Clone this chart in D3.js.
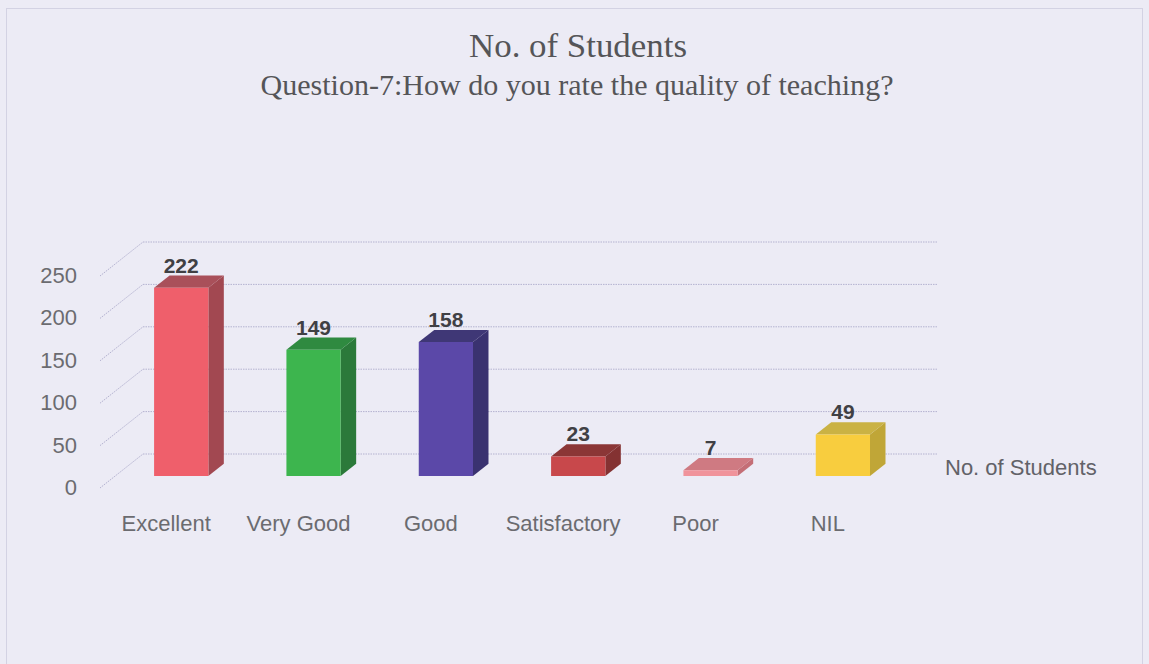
<!DOCTYPE html>
<html>
<head>
<meta charset="utf-8">
<script src="https://cdn.jsdelivr.net/npm/d3@7"></script>
<style>
  html, body { margin: 0; padding: 0; background: #ecebf5; }
  svg { display: block; }
</style>
</head>
<body>
<div id="chart"></div>
<script>
const categories = ['Excellent', 'Very Good', 'Good', 'Satisfactory', 'Poor', 'NIL']
const students = [222, 149, 158, 23, 7, 49]
const yTicks = [0, 50, 100, 150, 200, 250]
const frontColors = ['#ef5f6b', '#3db54e', '#5b48a8', '#c8484b', '#f0939b', '#f8cd3e']
const topColors = ['#a9505a', '#2f8a40', '#3f3776', '#8b3636', '#cf7a82', '#cab244']
const sideColors = ['#a24851', '#2b793a', '#3a3270', '#843232', '#c46e76', '#c0a637']

const width = 1149
const height = 664

// oblique projection for the 3D look
const depthX = 43
const depthY = -34
const proj = (x, y, d) => [x + depthX * d, y + depthY * d]
const barFront = 0.35
const barBack = 0.71

const svg = d3.select('#chart')
  .append('svg')
  .attr('width', width)
  .attr('height', height)

svg.append('rect')
  .attr('width', width)
  .attr('height', height)
  .attr('fill', '#ecebf5')

svg.append('rect')
  .attr('x', 6.5)
  .attr('y', 8.5)
  .attr('width', 1136)
  .attr('height', 680)
  .attr('fill', 'none')
  .attr('stroke', '#d3d2e3')

const x = d3.scaleBand()
  .domain(categories)
  .range([100, 894])
  .paddingInner(0.59)
  .paddingOuter(0.295)

const y = d3.scaleLinear()
  .domain([0, 250])
  .range([488, 276])

const left = x.range()[0]
const right = x.range()[1]

// grid: left wall diagonals + back wall lines
const grid = svg.append('g')
  .attr('stroke', '#b4b2d0')
  .attr('stroke-width', 1)
  .attr('stroke-dasharray', '1.5,1')
  .attr('fill', 'none')

grid.selectAll('line.diag')
  .data(yTicks)
  .join('line')
  .attr('class', 'diag')
  .attr('x1', left)
  .attr('y1', d => y(d))
  .attr('x2', d => proj(left, y(d), 1)[0])
  .attr('y2', d => proj(left, y(d), 1)[1])

grid.selectAll('line.back')
  .data(yTicks)
  .join('line')
  .attr('class', 'back')
  .attr('x1', d => proj(left, y(d), 1)[0])
  .attr('y1', d => proj(left, y(d), 1)[1])
  .attr('x2', d => proj(right, y(d), 1)[0])
  .attr('y2', d => proj(right, y(d), 1)[1])

// y tick labels
svg.append('g')
  .selectAll('text')
  .data(yTicks)
  .join('text')
  .attr('x', 77)
  .attr('y', d => y(d) + 7)
  .attr('text-anchor', 'end')
  .attr('font-family', 'Liberation Sans, Arial, sans-serif')
  .attr('font-size', 22)
  .attr('fill', '#6b6b70')
  .text(d => d)

// bars
const bars = categories.map((c, i) => ({ name: c, value: students[i], i }))

const pts = arr => arr.map(p => p.join(',')).join(' ')

const barG = svg.append('g')
  .selectAll('g')
  .data(bars)
  .join('g')

barG.each(function (d) {
  const g = d3.select(this)
  const x0 = x(d.name)
  const x1 = x0 + x.bandwidth()
  const yt = y(d.value)
  const yb = y(0)
  const ftl = proj(x0, yt, barFront)
  const ftr = proj(x1, yt, barFront)
  const fbr = proj(x1, yb, barFront)
  const fbl = proj(x0, yb, barFront)
  const btl = proj(x0, yt, barBack)
  const btr = proj(x1, yt, barBack)
  const bbr = proj(x1, yb, barBack)

  g.append('polygon')
    .attr('points', pts([ftr, btr, bbr, fbr]))
    .attr('fill', sideColors[d.i])
  g.append('polygon')
    .attr('points', pts([ftl, ftr, btr, btl]))
    .attr('fill', topColors[d.i])
  g.append('polygon')
    .attr('points', pts([ftl, ftr, fbr, fbl]))
    .attr('fill', frontColors[d.i])

  g.append('text')
    .attr('x', (ftl[0] + ftr[0]) / 2)
    .attr('y', btl[1] - 3)
    .attr('text-anchor', 'middle')
    .attr('font-family', 'Liberation Sans, Arial, sans-serif')
    .attr('font-weight', 'bold')
    .attr('font-size', 21)
    .attr('fill', '#404044')
    .text(d.value)
})

// category labels
svg.append('g')
  .selectAll('text')
  .data(categories)
  .join('text')
  .attr('x', d => x(d) + x.bandwidth() / 2)
  .attr('y', 531)
  .attr('text-anchor', 'middle')
  .attr('font-family', 'Liberation Sans, Arial, sans-serif')
  .attr('font-size', 22)
  .attr('fill', '#6b6b70')
  .text(d => d)

// legend
svg.append('text')
  .attr('x', 945)
  .attr('y', 475)
  .attr('font-family', 'Liberation Sans, Arial, sans-serif')
  .attr('font-size', 22)
  .attr('fill', '#626268')
  .text('No. of Students')

// titles
svg.append('text')
  .attr('x', 578)
  .attr('y', 57)
  .attr('text-anchor', 'middle')
  .attr('font-family', 'Liberation Serif, Times New Roman, serif')
  .attr('font-size', 33)
  .attr('textLength', 218)
  .attr('lengthAdjust', 'spacingAndGlyphs')
  .attr('fill', '#555558')
  .text('No. of Students')

svg.append('text')
  .attr('x', 577)
  .attr('y', 95)
  .attr('text-anchor', 'middle')
  .attr('font-family', 'Liberation Serif, Times New Roman, serif')
  .attr('font-size', 30)
  .attr('textLength', 633)
  .attr('lengthAdjust', 'spacingAndGlyphs')
  .attr('fill', '#555558')
  .text('Question-7:How do you rate the quality of teaching?')
</script>
</body>
</html>
